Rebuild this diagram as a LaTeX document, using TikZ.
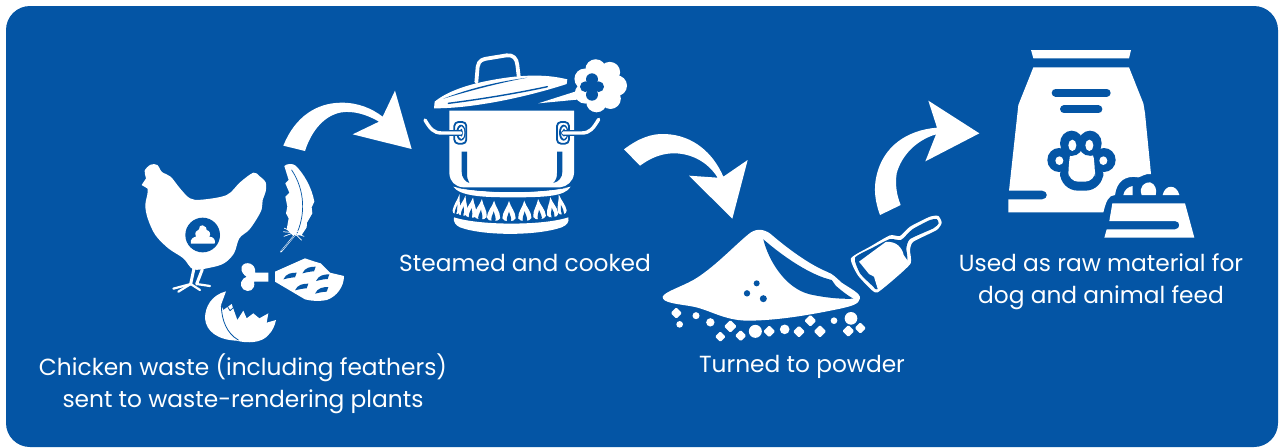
\documentclass[tikz,border=0pt]{standalone}
\usepackage{fontspec}
\setmainfont{Poppins}
\usepackage{tikz}
\usetikzlibrary{positioning}
\definecolor{panelblue}{HTML}{0455A5}
\tikzset{
  icon/.style={fill=white,draw=none},
  cut/.style={fill=panelblue,draw=none},
  wline/.style={draw=white,line cap=round,line join=round,fill=none},
  bline/.style={draw=panelblue,line cap=round,line join=round,fill=none},
  caption/.style={text=white,font=\fontsize{11.65}{16}\selectfont,align=center,inner sep=0pt},
}
\begin{document}
\begin{tikzpicture}[x=0.5pt,y=-0.5pt]
  \useasboundingbox (0,0) rectangle (1283,447);
  \fill[white] (0,0) rectangle (1283,447);

  % Panel
  \fill[panelblue,rounded corners=12pt] (6,6) rectangle (1278,447);

  % Arrows
  \begin{scope}[shift={(270,80)},scale=1/3]
    \fill[icon] (40,197) .. controls (75,110) and (140,68) .. (215,68)
      .. controls (265,68) and (305,85) .. (338,110) -- (375,32) -- (425,207) -- (248,163)
      -- (327,125) .. controls (290,103) and (250,92) .. (215,97)
      .. controls (165,105) and (125,150) .. (105,213) -- cycle;
  \end{scope}
  \begin{scope}[shift={(615,130)},scale=1/3]
    \fill[icon] (27,58) .. controls (70,25) and (110,10) .. (150,12)
      .. controls (235,15) and (295,70) .. (325,140) -- (398,90) -- (352,266) -- (222,137)
      -- (308,143) .. controls (275,90) and (220,68) .. (170,70)
      .. controls (135,72) and (105,85) .. (75,107) -- cycle;
  \end{scope}
  \begin{scope}[shift={(860,90)},scale=1/3]
    \fill[icon] (60,375) .. controls (45,335) and (40,295) .. (50,255)
      .. controls (70,170) and (140,120) .. (231,113) -- (205,32) -- (358,130) -- (196,214)
      -- (228,133) .. controls (170,150) and (125,195) .. (110,250)
      .. controls (105,285) and (110,315) .. (122,345) -- cycle;
  \end{scope}

  % Chicken
  \begin{scope}[shift={(130,150)},scale=1/3]
    \fill[icon] plot[smooth cycle,tension=0.55] coordinates {(48,85) (44,62) (62,44) (82,45) (96,66)
      (122,80) (150,115) (180,145) (215,149) (290,135) (330,97) (370,68) (388,78) (407,97)
      (407,125) (398,150) (395,178) (380,207) (357,240) (328,265) (312,310) (282,340) (240,353)
      (190,358) (160,325) (115,295) (76,255) (53,205) (46,165) (53,125)};
    \fill[icon] (35,105) -- (50,82) -- (60,120) -- cycle;
    \fill[cut] (218,255) circle (52);
    \fill[icon] (183,281) .. controls (178,268) and (192,260) .. (198,260)
      .. controls (192,248) and (200,240) .. (207,238) .. controls (205,230) and (213,224) .. (218,226)
      .. controls (226,228) and (232,235) .. (230,240) .. controls (240,243) and (243,252) .. (238,260)
      .. controls (250,260) and (258,270) .. (254,281) -- cycle;
    \draw[wline,line width=1.5pt] (192,355) -- (182,402);
    \draw[wline,line width=1.5pt] (217,358) -- (200,402);
    \draw[wline,line width=1.1pt] (182,402) -- (130,416);
    \draw[wline,line width=1.1pt] (182,402) -- (145,425);
    \draw[wline,line width=1.1pt] (182,402) -- (210,420);
    \draw[wline,line width=1.1pt] (200,402) -- (240,408);
    % Feather
    \fill[icon] (463,48) .. controls (470,40) and (490,40) .. (497,47)
      .. controls (520,70) and (545,110) .. (553,155) -- (545,172) -- (547,190) -- (531,218)
      -- (530,232) -- (515,255) -- (490,258) -- (470,238) -- (476,205) -- (468,190) -- (472,170)
      -- (466,140) -- (478,128) -- (466,100) -- (476,90) -- cycle;
    \draw[bline,line width=0.35pt] (485,60) .. controls (525,120) and (528,195) .. (497,258);
    \draw[white,line width=0.8pt,line cap=round] (497,252) -- (453,305);
    \draw[bline,line width=0.25pt] (495,255) -- (455,302);
    \foreach \ang in {160,185,205,340,20,45}{
      \draw[wline,line width=0.35pt] (492,248) -- ++(\ang:32);
    }
    % Bone and meat
    \fill[icon] (415,368) -- (375,368) .. controls (380,340) and (345,330) .. (335,350)
      .. controls (330,365) and (345,378) .. (350,380)
      .. controls (335,385) and (325,405) .. (340,418) .. controls (355,430) and (378,420) .. (372,395)
      -- (415,395) -- cycle;
    \fill[icon] (435,365) -- (525,325) -- (555,335) -- (572,340) -- (600,368) -- (642,378)
      .. controls (642,410) and (620,440) .. (590,450) .. controls (565,455) and (540,452) .. (525,448)
      -- (435,395) -- cycle;
    \foreach \mx/\my in {480/380,537/362,578/385,515/413,575/423}{
      \fill[cut] (\mx-20,\my+8) .. controls (\mx-12,\my-10) and (\mx+5,\my-12) .. (\mx+20,\my-12)
        -- (\mx+15,\my+2) .. controls (\mx+5,\my+2) and (\mx-8,\my+5) .. (\mx-20,\my+8) -- cycle;
    }
    % Egg shell
    \fill[icon] (288,424) .. controls (245,435) and (225,470) .. (225,505)
      .. controls (228,545) and (265,570) .. (320,572) .. controls (350,580) and (395,580) .. (415,555)
      .. controls (428,543) and (435,525) .. (438,510) -- (410,518) -- (415,490) -- (388,505)
      -- (370,490) -- (350,505) -- (340,482) -- (322,510) -- (305,462) -- (280,480) -- (273,465) -- cycle;
    \draw[bline,line width=0.4pt] (322,462) -- (300,482) -- (290,465) -- (274,468)
      .. controls (275,510) and (290,550) .. (325,570);
  \end{scope}

  % Pot
  \begin{scope}[shift={(410,40)},scale=1/3]
    \draw[wline,line width=1.9pt] (199,126) -- (203,80) .. controls (206,60) and (220,57) .. (235,55)
      -- (290,46) .. controls (310,44) and (320,55) .. (322,75) -- (326,108);
    \fill[icon] (72,205) -- (74,185) .. controls (110,155) and (170,135) .. (230,123)
      .. controls (320,105) and (400,100) .. (472,118) -- (470,132)
      .. controls (400,155) and (300,180) .. (220,192) .. controls (170,200) and (120,205) .. (72,205) -- cycle;
    \fill[cut] (100,176) .. controls (170,148) and (260,125) .. (352,113)
      .. controls (260,130) and (170,155) .. (100,176) -- cycle;
    \draw[bline,line width=0.7pt] (115,190) .. controls (210,178) and (320,160) .. (412,140);
    % Steam
    \fill[icon] (385,190) -- (495,155) -- (510,178) -- cycle;
    \foreach \ang in {0,51,...,310}{
      \fill[icon] (570,137) ++(\ang:50) circle (31);
    }
    \fill[icon] (570,137) circle (50);
    \fill[cut] (546,118) circle (18);
    \fill[cut] (526,140) circle (16);
    \fill[cut] (546,164) circle (18);
    \fill[cut] (566,140) circle (16);
    \fill[cut] (546,140) circle (16);
    % Pot body
    \fill[icon] (118,212) -- (492,212) -- (492,400) .. controls (490,425) and (470,440) .. (450,442)
      -- (160,442) .. controls (135,440) and (120,425) .. (118,400) -- cycle;
    % Ears and handles
    \foreach \ex in {133,441}{
      \draw[bline,line width=0.9pt,rounded corners=2pt] (\ex,246) rectangle (\ex+36,311);
      \fill[cut] (\ex+20,278) ellipse (14 and 24);
      \fill[icon] (\ex+21,278) ellipse (9 and 19);
      \fill[cut] (\ex+21,278) ellipse (4 and 12);
    }
    \draw[bline,line width=3pt] (75,279) -- (150,279);
    \draw[bline,line width=3pt] (535,279) -- (462,279);
    \draw[wline,line width=1.7pt] (45,240) .. controls (60,265) and (70,279) .. (95,279) -- (153,279);
    \draw[wline,line width=1.7pt] (566,238) .. controls (550,265) and (540,279) .. (515,279) -- (460,279);
    \fill[cut] (155,335) -- (171,335) -- (171,400) .. controls (171,412) and (173,420) .. (178,429)
      .. controls (165,425) and (155,412) .. (155,395) -- cycle;
    \fill[cut] (457,335) -- (441,335) -- (441,400) .. controls (441,412) and (438,420) .. (430,429)
      .. controls (447,425) and (457,412) .. (457,395) -- cycle;
    \fill[icon] (130,440) .. controls (220,462) and (390,462) .. (482,440)
      .. controls (465,470) and (400,472) .. (305,472) .. controls (215,472) and (150,468) .. (130,440) -- cycle;
    \fill[cut] (140,443) .. controls (220,460) and (390,460) .. (472,443)
      .. controls (390,452) and (220,452) .. (140,443) -- cycle;
    % Flames
    \foreach \fx/\fy/\fa/\fw in {135/527/-12/0.55,155/532/-10/0.75,180/538/-8/0.9,210/543/-5/1,250/548/-2/1.05,
      297/549/0/1.05,345/548/2/1.05,390/543/5/1,430/537/8/0.9,460/528/12/0.7}{
      \begin{scope}[shift={(\fx,\fy)},rotate=\fa,xscale=\fw]
        \fill[icon] (-19,-14) .. controls (-19,-34) and (-5,-46) .. (0,-66)
          .. controls (5,-46) and (19,-34) .. (19,-14) .. controls (17,-2) and (-17,-2) .. (-19,-14) -- cycle;
        \fill[cut] (-5,-3) .. controls (-9,-14) and (-3,-22) .. (0,-34)
          .. controls (3,-22) and (9,-14) .. (5,-3) -- cycle;
      \end{scope}
    }
    \fill[icon] (132,532) .. controls (210,557) and (400,557) .. (475,532)
      .. controls (478,545) and (472,555) .. (455,562) .. controls (380,588) and (220,588) .. (150,562)
      .. controls (135,555) and (130,545) .. (132,532) -- cycle;
  \end{scope}

  % Powder pile
  \begin{scope}[shift={(650,200)},scale=1/3]
    \fill[icon] (38,290) .. controls (45,275) and (90,262) .. (130,240)
      .. controls (190,205) and (250,140) .. (295,103) .. controls (315,85) and (340,85) .. (362,102)
      .. controls (400,135) and (470,190) .. (530,215) .. controls (550,222) and (560,235) .. (575,248)
      .. controls (600,265) and (632,280) .. (630,295) .. controls (628,312) and (605,318) .. (575,325)
      .. controls (480,345) and (380,362) .. (290,362) .. controls (220,360) and (180,330) .. (130,320)
      .. controls (90,312) and (35,310) .. (38,290) -- cycle;
    \fill[cut] (340,118) .. controls (355,180) and (405,265) .. (480,283)
      .. controls (520,292) and (570,298) .. (610,296) .. controls (590,285) and (570,268) .. (558,258)
      -- (545,240) .. controls (480,225) and (400,170) .. (340,118) -- cycle;
    \foreach \dx/\dy/\dr in {320/250/9,291/280/9.5,340/296/10.5}{
      \fill[cut] (\dx,\dy) circle (\dr);
    }
    \foreach \dx/\dy/\dr in {89/373/10,138/347/10.5,181/367/12.5,316/394/19.5,404/388/14.5,552/362/10,603/355/19}{
      \fill[icon] (\dx,\dy) circle (\dr);
    }
    \foreach \dx/\dy/\dr in {79/339/17,241/379/19,211/410/16,272/407/17,358/394/18,447/395/18,510/394/19,481/362/18,595/393/18,631/384/17}{
      \fill[icon,rounded corners=0.6pt] (\dx-\dr,\dy) -- (\dx,\dy-\dr) -- (\dx+\dr,\dy) -- (\dx,\dy+\dr) -- cycle;
    }
  \end{scope}

  % Scoop
  \begin{scope}[shift={(845,210)},scale=1/3]
    \fill[icon] plot[smooth cycle,tension=0.35] coordinates {(18,145) (75,110) (135,76) (165,78) (195,50)
      (255,20) (280,18) (290,38) (275,60) (205,95) (195,120) (197,160) (150,205) (98,247) (80,240) (38,195)};
    \fill[cut] plot[smooth cycle,tension=0.35] coordinates {(30,143) (85,112) (135,87) (168,90) (202,58)
      (255,30) (275,27) (281,40) (265,55) (195,87) (184,115) (186,155) (140,200) (96,238) (85,230) (45,190)};
    \fill[icon] (42,155) -- (122,96) .. controls (155,92) and (172,115) .. (176,135)
      -- (190,155) -- (100,243) -- (87,200) -- (72,192) -- cycle;
  \end{scope}

  % Food bag
  \begin{scope}[shift={(990,40)},scale=1/3]
    \fill[icon] (123,30) -- (423,30) -- (417,55) -- (130,55) -- cycle;
    \fill[icon] (130,82) -- (417,82) -- (460,190) -- (465,220) -- (483,402)
      .. controls (465,400) and (455,410) .. (445,412) .. controls (405,405) and (380,425) .. (375,465)
      .. controls (355,465) and (348,485) .. (340,517) -- (55,517) -- (55,478) -- (157,478)
      .. controls (175,478) and (175,452) .. (157,452) -- (57,452) -- (85,195) -- cycle;
    \draw[bline,line width=4pt] (197,158) -- (350,158);
    \draw[bline,line width=4pt] (222,208) -- (325,208);
    % Paw
    \fill[cut] (245,310) ellipse (35 and 38);
    \fill[cut] (300,310) ellipse (35 and 38);
    \fill[cut] (207,360) ellipse (35 and 36);
    \fill[cut] (342,360) ellipse (35 and 36);
    \fill[cut,rounded corners=9pt] (210,355) rectangle (340,452);
    \fill[icon] (247,316) ellipse (12 and 17);
    \fill[icon] (298,316) ellipse (12 and 17);
    \fill[icon] (208,362) ellipse (12 and 13);
    \fill[icon] (340,362) ellipse (12 and 13);
    \fill[icon,rounded corners=5pt] (235,425) -- (235,380) .. controls (240,345) and (310,345) .. (315,380)
      -- (315,425) -- cycle;
    % Bowl
    \fill[icon] (400,465) .. controls (402,450) and (415,440) .. (428,438) -- (428,465) -- cycle;
    \fill[icon] (455,465) .. controls (445,440) and (465,425) .. (480,427)
      .. controls (495,430) and (502,450) .. (497,465) -- cycle;
    \fill[icon] (518,465) .. controls (525,432) and (560,432) .. (568,465) -- cycle;
    \fill[icon] (367,490) -- (585,490) -- (613,593) -- (343,593) -- (350,568) -- (555,568)
      .. controls (572,568) and (572,543) .. (555,543) -- (358,543) -- cycle;
  \end{scope}

  % Labels
  \node[caption] (chicken) at (243,384) {Chicken waste (including feathers)\\sent to waste-rendering plants};
  \node[caption] (steamed) at (525,263) {Steamed and cooked};
  \node[caption] (powder) at (802,367) {Turned to powder};
  \node[caption] (feed) at (1101,282) {Used as raw material for\\dog and animal feed};
\end{tikzpicture}
\end{document}
